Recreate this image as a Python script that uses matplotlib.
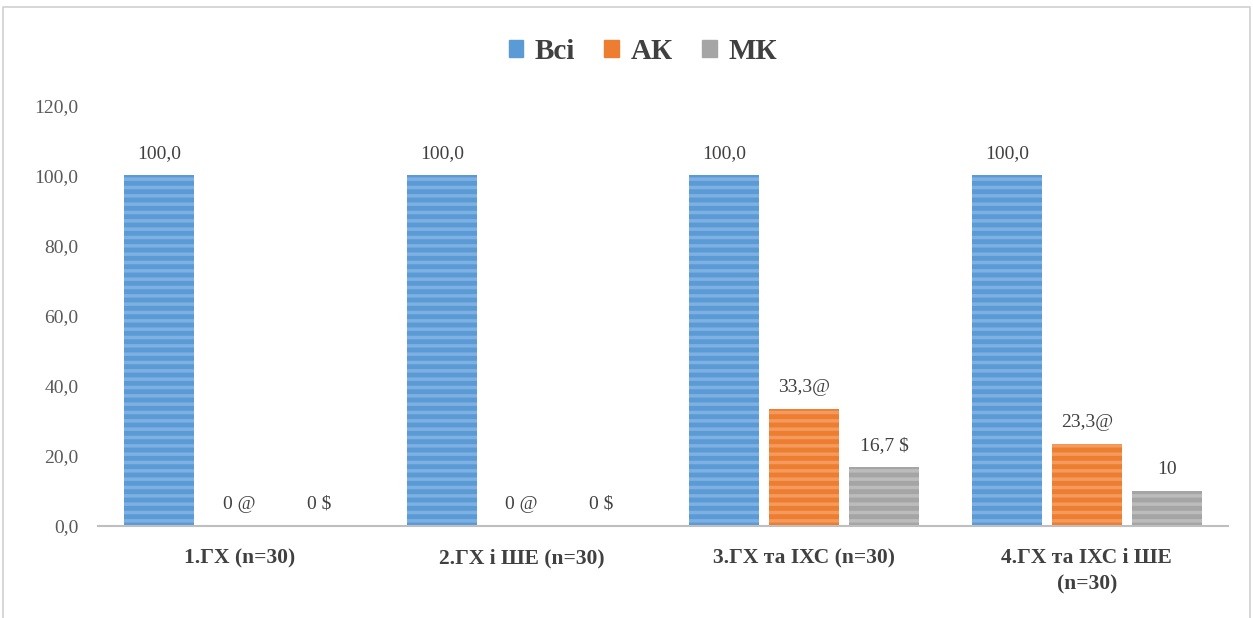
import numpy as np
import matplotlib.pyplot as plt
from matplotlib.lines import Line2D
from matplotlib.ticker import FuncFormatter

plt.rcParams['font.family'] = ['Liberation Serif', 'DejaVu Serif']
plt.rcParams['hatch.linewidth'] = 2.5

groups = ['1.ГХ (n=30)', '2.ГХ і ШЕ (n=30)', '3.ГХ та ІХС (n=30)', '4.ГХ та ІХС і ШЕ\n(n=30)']
series = ['Всі', 'АК', 'МК']
vals_all = [100.0, 100.0, 100.0, 100.0]
vals_ak = [0.0, 0.0, 33.3, 23.3]
vals_mk = [0.0, 0.0, 16.7, 10.0]
labels_all = ['100,0', '100,0', '100,0', '100,0']
labels_ak = ['0 @', '0 @', '33,3@', '23,3@']
labels_mk = ['0 $', '0 $', '16,7 $', '10']

colors = ['#5B9BD5', '#ED7D31', '#A5A5A5']
stripes = ['#7FB0E2', '#F49A5C', '#BCBCBC']

fig = plt.figure(figsize=(12.53, 6.18), dpi=100)
ax = fig.add_axes([0.0782, 0.1489, 0.9018, 0.681])

x = np.arange(len(groups))
step = 0.283
width = 0.248
data = [vals_all, vals_ak, vals_mk]
texts = [labels_all, labels_ak, labels_mk]
for i, (vals, labs) in enumerate(zip(data, texts)):
    pos = x + (i - 1) * step
    ax.bar(pos, vals, width, color=colors[i], edgecolor=stripes[i],
           linewidth=0, hatch='--', label=series[i])
    for p, v, t in zip(pos, vals, labs):
        ax.text(p, v + 3.8, t, ha='center', va='bottom', fontsize=14, color='#404040')

ax.set_xlim(-0.5, 3.5)
ax.set_ylim(0, 120)
ax.set_yticks(np.arange(0, 121, 20))
ax.yaxis.set_major_formatter(FuncFormatter(lambda v, _: f'{v:.1f}'.replace('.', ',')))
ax.tick_params(axis='y', length=0, pad=14, labelsize=14, labelcolor='#595959')
ax.set_xticks(x)
ax.set_xticklabels(groups, fontsize=15.5, fontweight='bold', color='#404040',
                   linespacing=1.45)
ax.tick_params(axis='x', length=0, pad=16)
for s in ['top', 'right', 'left']:
    ax.spines[s].set_visible(False)
ax.spines['bottom'].set_color('#BFBFBF')
ax.spines['bottom'].set_linewidth(1.5)

handles = [plt.Rectangle((0, 0), 1, 1, color=c) for c in colors]
fig.legend(handles, series, loc='center', bbox_to_anchor=(0.513, 0.917), ncol=3,
           frameon=False, prop={'size': 21, 'weight': 'bold'}, labelcolor='#404040',
           handlelength=0.5, handleheight=0.5, handletextpad=0.4, columnspacing=1.0)

# outer chart frame
fig.add_artist(Line2D([0.0024, 0.0024, 0.9976, 0.9976], [0.0, 0.989, 0.989, 0.0],
                      transform=fig.transFigure, color='#D0D0D0', linewidth=1.2))

fig.savefig('out.png', dpi=100, facecolor='white')
